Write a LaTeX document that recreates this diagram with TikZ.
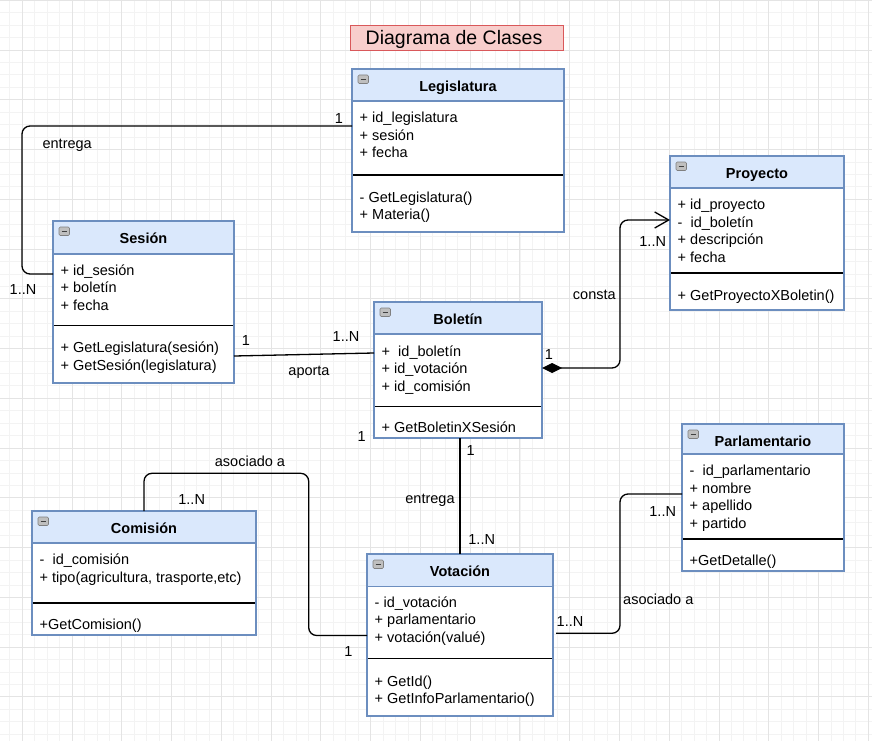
\documentclass[tikz,border=0pt]{standalone}
\usepackage{fontspec}
\setmainfont{Liberation Sans}
\usetikzlibrary{arrows.meta}

\definecolor{hdrfill}{HTML}{DAE8FC}
\definecolor{hdrline}{HTML}{6C8EBF}
\definecolor{ttlfill}{HTML}{F8CECC}
\definecolor{ttlline}{HTML}{D9585A}
\definecolor{gridminor}{HTML}{F3F3F3}
\definecolor{gridmajor}{HTML}{E4E4E4}

\tikzset{
  classbox/.style={draw=hdrline, line width=1.2pt, fill=white, anchor=north west,
    inner sep=0pt, outer sep=0pt},
  txt/.style={anchor=base west, inner sep=0pt, font=\fontsize{14.5}{17.5}\selectfont},
  ttl/.style={anchor=base, inner sep=0pt, font=\fontsize{14.5}{17.5}\selectfont\bfseries},
  lbl/.style={anchor=base, inner sep=0pt, font=\fontsize{14.5}{17.5}\selectfont},
  conn/.style={draw=black, line width=1.3pt, rounded corners=8pt},
  sepline/.style={draw=black, line width=1.3pt},
  hdrsep/.style={draw=hdrline, line width=1.2pt},
  iconbox/.style={draw=black!50, fill=black!25, rounded corners=1.2pt, line width=0.6pt},
}

% class box: name, x, y, width, height, header height, separator offset, title
\newcommand\umlbox[8]{%
  \node[classbox, minimum width=#4pt, minimum height=#5pt] (#1) at (#2,#3) {};
  \fill[hdrfill] (#1.north west) rectangle ([yshift=-#6pt]#1.north east);
  \draw[hdrsep] ([yshift=-#6pt]#1.north west) -- ([yshift=-#6pt]#1.north east);
  \draw[sepline] ([yshift=-#7pt]#1.north west) -- ([yshift=-#7pt]#1.north east);
  \draw[hdrsep] (#1.north west) rectangle (#1.south east);
  \draw[iconbox] ([shift={(6pt,-6pt)}]#1.north west) rectangle ([shift={(16.5pt,-14.5pt)}]#1.north west);
  \draw[black!75, line width=1.1pt] ([shift={(8.5pt,-10.3pt)}]#1.north west) -- ([shift={(14pt,-10.3pt)}]#1.north west);
  \node[ttl] (#1-title) at ([yshift=-22.5pt]#1.north) {#8};
}

% text rows of a compartment: box name, row prefix, first baseline offset, rows
\newcommand\umllines[4]{%
  \foreach \t [count=\i from 0] in {#4}{%
    \node[txt] (#1-#2\i) at ([shift={(7.5pt,-#3pt-17.5pt*\i)}]#1.north west) {\t};
  }%
}

\begin{document}
\begin{tikzpicture}[x=1pt,y=-1pt]
\useasboundingbox (0,0) rectangle (872,741);
\fill[white] (0,0) rectangle (872,741);

% background grid
\foreach \k in {-1,...,69}{
  \pgfmathsetmacro\gx{22.3+12.44*\k}
  \draw[gridminor, line width=0.8pt] (\gx,0) -- (\gx,741);
}
\foreach \k in {-4,...,56}{
  \pgfmathsetmacro\gy{50+12.44*\k}
  \draw[gridminor, line width=0.8pt] (0,\gy) -- (872,\gy);
}
\foreach \k in {0,...,17}{
  \pgfmathsetmacro\gx{22.3+49.76*\k}
  \draw[gridmajor, line width=0.9pt] (\gx,0) -- (\gx,741);
}
\foreach \k in {-1,...,14}{
  \pgfmathsetmacro\gy{50+49.76*\k}
  \draw[gridmajor, line width=0.9pt] (0,\gy) -- (872,\gy);
}

% title
\node[draw=ttlline, fill=ttlfill, line width=1pt, minimum width=213pt, minimum height=25.5pt,
  inner sep=0pt, anchor=north west] (title) at (350,25) {};
\node[anchor=base, inner sep=0pt, font=\fontsize{19.5}{22}\selectfont] (title-text) at (454,45) {Diagrama de Clases};

% classes
\umlbox{leg}{352}{69}{212}{163}{32}{106}{Legislatura}
\umllines{leg}{a}{53.8}{{+ id\_legislatura},{+ sesión},{+ fecha}}
\umllines{leg}{m}{133}{{- GetLegislatura()},{+ Materia()}}

\umlbox{ses}{53}{221}{181}{162}{33}{104.7}{Sesión}
\umllines{ses}{a}{54.2}{{+ id\_sesión},{+ boletín},{+ fecha}}
\umllines{ses}{m}{131.5}{{+ GetLegislatura(sesión)},{+ GetSesión(legislatura)}}

\umlbox{bol}{374}{302}{168}{136}{32}{104.7}{Boletín}
\umllines{bol}{a}{54.2}{{+\ \ id\_boletín},{+ id\_votación},{+ id\_comisión}}
\umllines{bol}{m}{130.5}{{+ GetBoletinXSesión}}

\umlbox{pro}{670}{156}{174}{154}{32}{117}{Proyecto}
\umllines{pro}{a}{53.5}{{+ id\_proyecto},{-\ \ id\_boletín},{+ descripción},{+ fecha}}
\umllines{pro}{m}{144.2}{{+ GetProyectoXBoletin()}}

\umlbox{com}{32}{511}{224}{124}{32}{92}{Comisión}
\umllines{com}{a}{53.5}{{-\ \ id\_comisión},{+ tipo(agricultura, trasporte,etc)}}
\umllines{com}{m}{118.5}{{+GetComision()}}

\umlbox{vot}{367}{554}{186}{162}{32.7}{104.3}{Votación}
\umllines{vot}{a}{53.2}{{- id\_votación},{+ parlamentario},{+ votación(valué)}}
\umllines{vot}{m}{132.2}{{+ GetId()},{+ GetInfoParlamentario()}}

\umlbox{par}{682}{424}{162}{147}{30}{115}{Parlamentario}
\umllines{par}{a}{51.5}{{-\ \ id\_parlamentario},{+ nombre},{+ apellido},{+ partido}}
\umllines{par}{m}{141.2}{{+GetDetalle()}}

% associations
\draw[conn] ([yshift=-57pt]leg.north west) -- ++(-330,0) |- ([yshift=-53pt]ses.north west);
\draw[conn] ([yshift=-135pt]ses.north east) -- ([yshift=-51pt]bol.north west);
\draw[conn, {Diamond[length=20pt,width=10pt,fill=black]}-{Straight Barb[length=14pt,width=16pt]}]
  ([yshift=-66pt]bol.north east) -- ++(78,0) |- ([yshift=-64pt]pro.north west);
\draw[conn] (vot.north |- bol.south) -- (vot.north);
\draw[conn] (com.north) -- ++(0,-37.7) -| ([shift={(-58.3pt,-81.5pt)}]vot.north west)
  -- ([yshift=-81.5pt]vot.north west);
\draw[conn] ([shift={(3pt,-79.3pt)}]vot.north east) -- ++(64,0) |- ([yshift=-70pt]par.north west);

% multiplicities and association names
\node[lbl] (m1) at (339,124) {1};
\node[lbl] (n1) at (67.2,148.3) {entrega};
\node[lbl] (m2) at (23,294) {1..N};
\node[lbl] (m3) at (246,345) {1};
\node[lbl] (m4) at (346,341) {1..N};
\node[lbl] (n2) at (309,375.7) {aporta};
\node[lbl] (m5) at (549,359) {1};
\node[lbl] (m6) at (652.7,246.7) {1..N};
\node[lbl] (n3) at (594.3,299.7) {consta};
\node[lbl] (m7) at (361.7,441.7) {1};
\node[lbl] (m8) at (470.7,455) {1};
\node[lbl] (n4) at (430,503) {entrega};
\node[lbl] (m9) at (481.7,544.3) {1..N};
\node[lbl] (n5) at (250,466.7) {asociado a};
\node[lbl] (m10) at (191.7,504) {1..N};
\node[lbl] (m11) at (348.3,656.7) {1};
\node[lbl] (m12) at (570,626.7) {1..N};
\node[lbl] (n6) at (658.3,604) {asociado a};
\node[lbl] (m13) at (662.7,516.7) {1..N};
\end{tikzpicture}
\end{document}
